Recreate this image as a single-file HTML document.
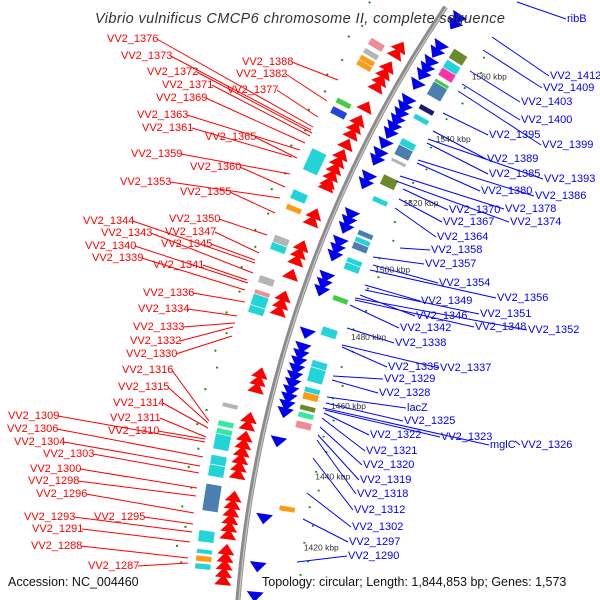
<!DOCTYPE html>
<html><head><meta charset="utf-8"><style>
html,body{margin:0;padding:0;background:#fff;width:600px;height:600px;overflow:hidden}
svg{display:block}
text{font-family:"Liberation Sans",sans-serif}
.r{fill:#f00;font-size:11px}.b{fill:#00f;font-size:11px}
.k{fill:#333;font-size:8.5px}
</style></head><body>
<svg id="map" width="600" height="600" viewBox="0 0 600 600" xmlns="http://www.w3.org/2000/svg" style="overflow:hidden">
<g id="arcs"></g><g id="feats"></g><g id="lines"></g><g id="labels"></g>
<text x="95" y="23" font-size="14.5" font-style="italic" fill="#333" textLength="410">Vibrio vulnificus CMCP6 chromosome II, complete sequence</text>
<text x="8" y="586" font-size="12.5" fill="#111">Accession: NC_004460</text>
<text x="262" y="586" font-size="12.5" fill="#111">Topology: circular; Length: 1,844,853 bp; Genes: 1,573</text>
</svg>
<script>
// ----- data -----
const tickKbp = [1560,1540,1520,1500,1480,1460,1440,1420];
const redArrowK = [1557,1555,1551,1549,1547,1545,1539,1535,1533,1531,1528,1525,1523,1521,1519,1517,1516,1508,1506,1499,1497,1495,1491,1485,1483,1481,1464,1462,1460,1452,1450,1447,1445,1443,1441,1439,1437,1431,1429,1427,1425,1423,1421,1417,1415,1413,1411,1409];
const blueArrowK = [1571,1569,1562,1560,1557,1555,1553,1550,1545,1543,1541,1539,1537,1535,1532,1529,1527,1522,1520,1511,1509,1507,1503,1501,1499,1493,1491,1489,1477,1473,1471,1469,1467,1465,1463,1461,1459,1457,1455,1447,1426,1413,1405];
const boxK     = [1553,1550.5,1548.5,1547,1536,1533,1517,1509,1506,1497,1495,1486,1483,1480,1478,1453,1448,1446,1442,1438,1435,1426,1418,1415,1413,1411, 1561,1558,1555.5,1553,1549.5,1545,1542,1534,1531,1529,1522,1517,1507,1505,1503,1499,1497,1488,1478,1469,1465,1462,1460,1457,1455,1452,1429];
const boxLen   = [2,1.5,1.5,1.5,1.5,2,6,2.5,1.5,2,2,2,1.2,3,2,1.2,1.5,1.5,4,2.5,3,7,3,1.2,1.5,1.5, 3,2.5,2.5,1.5,4,1.5,1.5,2,3,1,3,1.5,1.5,1.5,2,1.5,2,1.5,2.5,2,4,1.5,2,1.5,1.5,2,1.5];
const boxSide  = [1,1,1,1,1,1,1,1,1,1,1,1,1,1,1,1,1,1,1,1,1,1,1,1,1,1, -1,-1,-1,-1,-1,-1,-1,-1,-1,-1,-1,-1,-1,-1,-1,-1,-1,-1,-1,-1,-1,-1,-1,-1,-1,-1,-1];
const boxType  = ["pink","gray","orange","orange","green","blue","cyan","cyan","orange","gray","cyan","gray","pink","cyan","cyan","gray","mint","mint","cyan","cyan","cyan","slate","cyan","cyan","orange","cyan", "olive","cyan","magenta","green","slate","navy","cyan","cyan","slate","gray","olive","cyan","slate","cyan","slate","cyan","cyan","green","cyan","cyan","cyan","cyan","orange","olive","mint","pink","orange"];
const dotK = [1566,1562,1556,1552,1546,1541,1537,1531,1526,1521,1514,1509,1503,1498,1494,1488,1482,1476,1471,1466,1462,1456,1451,1447,1441,1436,1431,1426,1421,1416,1412];
// ----- geometry -----
const CX=1472, CY=699, R=1238;
const A0=Math.atan2(45-CY,421-CX), DA=3.78/R;
const NS="http://www.w3.org/2000/svg";
function ang(k){return A0-(1560-k)*DA;}
function P(k,dr){const a=ang(k);return [CX+(R+dr)*Math.cos(a),CY+(R+dr)*Math.sin(a)];}
function mk(tag,attrs,parent){const e=document.createElementNS(NS,tag);for(const n in attrs)e.setAttribute(n,attrs[n]);document.getElementById(parent).appendChild(e);return e;}
const colors={pink:"#f08c96",gray:"#b4b4b4",orange:"#ff9a14",green:"#44cc44",blue:"#2244dd",cyan:"#22d4d8",mint:"#33e8a0",slate:"#4a7fb0",olive:"#6d8a2a",magenta:"#ff33aa",navy:"#1a1a70"};
function arcPath(dr){const s=P(1572,dr),e=P(1403,dr);return "M"+s[0].toFixed(1)+","+s[1].toFixed(1)+" A"+(R+dr)+","+(R+dr)+" 0 0 0 "+e[0].toFixed(1)+","+e[1].toFixed(1);}
const bb=mk("path",{d:arcPath(0),fill:"none",stroke:"#8c8c8c","stroke-width":5},"arcs");


const bb2=mk("path",{d:arcPath(-1),fill:"none",stroke:"#c8c8c8","stroke-width":1.2},"arcs");


function poly(pts){return pts.map(p=>p[0].toFixed(1)+","+p[1].toFixed(1)).join(" ");}
redArrowK.forEach(k=>{
  const e=mk("polygon",{points:poly([P(k-1.5,8),P(k-1.5,25),P(k+1.3,16.5)]),fill:"#f00"},"feats");
  
  
});
blueArrowK.forEach(k=>{
  const e=mk("polygon",{points:poly([P(k+1.5,-8),P(k+1.5,-25),P(k-1.3,-16.5)]),fill:"#0000ee"},"feats");
  
  
});
boxK.forEach((k,i)=>{
  const s=boxSide[i], d0=s*30, d1=s*46;
  const e=mk("polygon",{points:poly([P(k,d0),P(k+boxLen[i],d0),P(k+boxLen[i],d1),P(k,d1)]),fill:colors[boxType[i]],stroke:"#fff","stroke-width":0.6},"feats");
  
  
});
dotK.forEach((k,i)=>{
  [60,-60].forEach(d=>{
    const dd=d+(i%2?6:0)*Math.sign(d);
    const e=mk("polygon",{points:poly([P(k,dd-1),P(k+0.5,dd-1),P(k+0.5,dd+1),P(k,dd+1)]),fill:"#1a8a1a"},"feats");
    
    
  });
});
tickKbp.forEach(k=>{
  const t=P(k,-60);
  const e=mk("text",{x:t[0],y:t[1]+3,"class":"k"},"labels");
  e.textContent=k+" kbp";
  
  
});
const labs=[
["VV2_1376",107,38,313,127,"r"],["VV2_1373",121,55,311,130,"r"],["VV2_1372",147,71,312,133,"r"],["VV2_1371",162,84,310,136,"r"],["VV2_1369",156,97,305,143,"r"],
["VV2_1363",137,114,300,150,"r"],["VV2_1361",142,127,292,157,"r"],["VV2_1365",205,136,297,158,"r"],["VV2_1388",242,61,338,80,"r"],["VV2_1382",236,73,327,101,"r"],["VV2_1377",227,89,318,117,"r"],
["VV2_1359",131,153,290,174,"r"],["VV2_1360",190,166,285,187,"r"],["VV2_1353",120,181,280,198,"r"],["VV2_1355",180,191,275,213,"r"],["VV2_1344",83,220,255,263,"r"],["VV2_1350",169,218,267,235,"r"],
["VV2_1343",101,232,253,273,"r"],["VV2_1347",165,231,259,253,"r"],["VV2_1340",85,245,248,283,"r"],["VV2_1345",161,243,255,260,"r"],["VV2_1339",92,257,245,290,"r"],["VV2_1341",153,264,247,280,"r"],
["VV2_1336",143,292,245,302,"r"],["VV2_1334",138,308,237,316,"r"],["VV2_1333",133,326,235,323,"r"],["VV2_1332",130,340,233,327,"r"],["VV2_1330",126,353,232,336,"r"],
["VV2_1316",122,369,209,421,"r"],["VV2_1315",118,386,208,423,"r"],["VV2_1314",113,402,208,428,"r"],["VV2_1311",110,417,206,437,"r"],["VV2_1310",108,430,205,439,"r"],["VV2_1309",8,415,205,442,"r"],
["VV2_1306",7,428,203,457,"r"],["VV2_1304",14,441,200,466,"r"],["VV2_1303",43,453,199,473,"r"],["VV2_1300",30,468,197,488,"r"],["VV2_1298",28,480,196,496,"r"],["VV2_1296",36,493,194,513,"r"],
["VV2_1293",24,516,192,532,"r"],["VV2_1295",94,516,193,524,"r"],["VV2_1291",32,528,190,542,"r"],["VV2_1288",31,545,188,558,"r"],["VV2_1287",88,565,188,563,"r"],
["ribB",567,18,517,2,"b"],["VV2_1412",550,75,492,37,"b"],["VV2_1409",543,87,483,50,"b"],["VV2_1403",521,101,470,71,"b"],["VV2_1400",521,119,462,84,"b"],["VV2_1395",489,134,443,113,"b"],
["VV2_1399",542,144,458,91,"b"],["VV2_1389",487,158,433,131,"b"],["VV2_1393",544,178,428,139,"b"],["VV2_1385",489,173,427,143,"b"],["VV2_1386",535,195,418,160,"b"],["VV2_1380",481,190,417,163,"b"],
["VV2_1378",505,208,400,176,"b"],["VV2_1374",510,221,396,181,"b"],["VV2_1370",449,209,403,189,"b"],["VV2_1367",443,221,399,199,"b"],["VV2_1364",437,236,395,208,"b"],["VV2_1358",431,249,400,248,"b"],
["VV2_1357",425,263,373,257,"b"],["VV2_1354",439,282,373,265,"b"],["VV2_1356",497,297,370,270,"b"],["VV2_1349",421,300,365,285,"b"],["VV2_1351",480,313,365,290,"b"],["VV2_1346",416,315,360,295,"b"],
["VV2_1348",475,326,355,300,"b"],["VV2_1352",528,329,355,298,"b"],["VV2_1342",400,327,350,305,"b"],["VV2_1338",395,342,347,328,"b"],["VV2_1335",388,366,342,347,"b"],["VV2_1337",440,367,342,345,"b"],
["VV2_1329",384,378,333,376,"b"],["VV2_1328",379,392,332,380,"b"],["lacZ",407,407,327,397,"b"],["VV2_1325",404,420,326,403,"b"],["VV2_1323",441,436,325,410,"b"],["VV2_1322",370,434,324,413,"b"],
["mglC",490,444,323,408,"b"],["VV2_1326",521,444,515,441,"b"],["VV2_1321",366,450,322,418,"b"],["VV2_1320",363,464,320,427,"b"],["VV2_1319",360,479,318,435,"b"],["VV2_1318",357,493,317,440,"b"],
["VV2_1312",354,509,313,458,"b"],["VV2_1302",352,526,307,493,"b"],["VV2_1297",349,541,303,519,"b"],["VV2_1290",348,555,297,562,"b"]
];
labs.forEach(l=>{
  const t=mk("text",{x:l[1],y:l[2]+4,"class":l[5]},"labels");
  t.textContent=l[0];
  
  
  const w=l[0].length*6.1;
  const sx=l[5]==="r"?l[1]+w+1:l[1]-1;
  const ln=mk("line",{x1:sx,y1:l[2]+1,x2:l[3],y2:l[4],stroke:l[5]==="r"?"#f00":"#00f","stroke-width":1},"lines");
  
  
});
</script>
</body></html>
